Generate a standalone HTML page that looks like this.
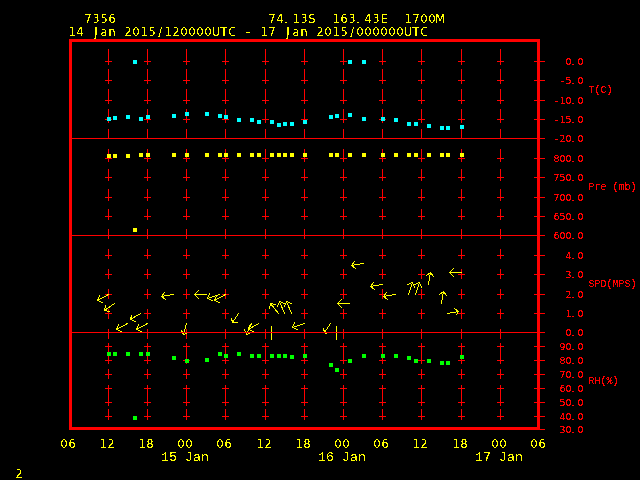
<!DOCTYPE html>
<html><head><meta charset="utf-8"><title>7356 meteogram</title><style>html,body{margin:0;padding:0;background:#000;width:640px;height:480px;overflow:hidden}svg{display:block}</style></head><body><svg width="640" height="480" viewBox="0 0 640 480"><defs><filter id="tA" color-interpolation-filters="sRGB"><feComponentTransfer><feFuncA type="discrete" tableValues="0 1"/></feComponentTransfer></filter><filter id="tB" color-interpolation-filters="sRGB"><feComponentTransfer><feFuncA type="discrete" tableValues="0 0 0 0 1 1 1 1 1 1"/></feComponentTransfer></filter></defs><rect width="640" height="480" fill="#000"/><g shape-rendering="crispEdges"><path fill="#ff0000" d="M108 49h1v10h-1zM108 69h1v10h-1zM108 89h1v10h-1zM108 109h1v10h-1zM108 129h1v10h-1zM108 149h1v10h-1zM108 169h1v10h-1zM108 189h1v10h-1zM108 209h1v10h-1zM108 229h1v10h-1zM108 249h1v10h-1zM108 269h1v10h-1zM108 289h1v10h-1zM108 309h1v10h-1zM108 329h1v10h-1zM108 349h1v10h-1zM108 369h1v10h-1zM108 389h1v10h-1zM108 409h1v10h-1zM105 61h7v1h-7zM108 58h1v7h-1zM105 80h7v1h-7zM108 77h1v7h-1zM105 100h7v1h-7zM108 97h1v7h-1zM105 119h7v1h-7zM108 116h1v7h-1zM105 158h7v1h-7zM108 155h1v7h-1zM105 177h7v1h-7zM108 174h1v7h-1zM105 197h7v1h-7zM108 194h1v7h-1zM105 216h7v1h-7zM108 213h1v7h-1zM105 235h7v1h-7zM108 232h1v7h-1zM105 255h7v1h-7zM108 252h1v7h-1zM105 274h7v1h-7zM108 271h1v7h-1zM105 294h7v1h-7zM108 291h1v7h-1zM105 313h7v1h-7zM108 310h1v7h-1zM105 332h7v1h-7zM108 329h1v7h-1zM105 346h7v1h-7zM108 343h1v7h-1zM105 360h7v1h-7zM108 357h1v7h-1zM105 374h7v1h-7zM108 371h1v7h-1zM105 388h7v1h-7zM108 385h1v7h-1zM105 402h7v1h-7zM108 399h1v7h-1zM105 416h7v1h-7zM108 413h1v7h-1zM147 49h1v10h-1zM147 69h1v10h-1zM147 89h1v10h-1zM147 109h1v10h-1zM147 129h1v10h-1zM147 149h1v10h-1zM147 169h1v10h-1zM147 189h1v10h-1zM147 209h1v10h-1zM147 229h1v10h-1zM147 249h1v10h-1zM147 269h1v10h-1zM147 289h1v10h-1zM147 309h1v10h-1zM147 329h1v10h-1zM147 349h1v10h-1zM147 369h1v10h-1zM147 389h1v10h-1zM147 409h1v10h-1zM144 61h7v1h-7zM147 58h1v7h-1zM144 80h7v1h-7zM147 77h1v7h-1zM144 100h7v1h-7zM147 97h1v7h-1zM144 119h7v1h-7zM147 116h1v7h-1zM144 158h7v1h-7zM147 155h1v7h-1zM144 177h7v1h-7zM147 174h1v7h-1zM144 197h7v1h-7zM147 194h1v7h-1zM144 216h7v1h-7zM147 213h1v7h-1zM144 235h7v1h-7zM147 232h1v7h-1zM144 255h7v1h-7zM147 252h1v7h-1zM144 274h7v1h-7zM147 271h1v7h-1zM144 294h7v1h-7zM147 291h1v7h-1zM144 313h7v1h-7zM147 310h1v7h-1zM144 332h7v1h-7zM147 329h1v7h-1zM144 346h7v1h-7zM147 343h1v7h-1zM144 360h7v1h-7zM147 357h1v7h-1zM144 374h7v1h-7zM147 371h1v7h-1zM144 388h7v1h-7zM147 385h1v7h-1zM144 402h7v1h-7zM147 399h1v7h-1zM144 416h7v1h-7zM147 413h1v7h-1zM186 49h1v10h-1zM186 69h1v10h-1zM186 89h1v10h-1zM186 109h1v10h-1zM186 129h1v10h-1zM186 149h1v10h-1zM186 169h1v10h-1zM186 189h1v10h-1zM186 209h1v10h-1zM186 229h1v10h-1zM186 249h1v10h-1zM186 269h1v10h-1zM186 289h1v10h-1zM186 309h1v10h-1zM186 329h1v10h-1zM186 349h1v10h-1zM186 369h1v10h-1zM186 389h1v10h-1zM186 409h1v10h-1zM183 61h7v1h-7zM186 58h1v7h-1zM183 80h7v1h-7zM186 77h1v7h-1zM183 100h7v1h-7zM186 97h1v7h-1zM183 119h7v1h-7zM186 116h1v7h-1zM183 158h7v1h-7zM186 155h1v7h-1zM183 177h7v1h-7zM186 174h1v7h-1zM183 197h7v1h-7zM186 194h1v7h-1zM183 216h7v1h-7zM186 213h1v7h-1zM183 235h7v1h-7zM186 232h1v7h-1zM183 255h7v1h-7zM186 252h1v7h-1zM183 274h7v1h-7zM186 271h1v7h-1zM183 294h7v1h-7zM186 291h1v7h-1zM183 313h7v1h-7zM186 310h1v7h-1zM183 332h7v1h-7zM186 329h1v7h-1zM183 346h7v1h-7zM186 343h1v7h-1zM183 360h7v1h-7zM186 357h1v7h-1zM183 374h7v1h-7zM186 371h1v7h-1zM183 388h7v1h-7zM186 385h1v7h-1zM183 402h7v1h-7zM186 399h1v7h-1zM183 416h7v1h-7zM186 413h1v7h-1zM225 49h1v10h-1zM225 69h1v10h-1zM225 89h1v10h-1zM225 109h1v10h-1zM225 129h1v10h-1zM225 149h1v10h-1zM225 169h1v10h-1zM225 189h1v10h-1zM225 209h1v10h-1zM225 229h1v10h-1zM225 249h1v10h-1zM225 269h1v10h-1zM225 289h1v10h-1zM225 309h1v10h-1zM225 329h1v10h-1zM225 349h1v10h-1zM225 369h1v10h-1zM225 389h1v10h-1zM225 409h1v10h-1zM222 61h7v1h-7zM225 58h1v7h-1zM222 80h7v1h-7zM225 77h1v7h-1zM222 100h7v1h-7zM225 97h1v7h-1zM222 119h7v1h-7zM225 116h1v7h-1zM222 158h7v1h-7zM225 155h1v7h-1zM222 177h7v1h-7zM225 174h1v7h-1zM222 197h7v1h-7zM225 194h1v7h-1zM222 216h7v1h-7zM225 213h1v7h-1zM222 235h7v1h-7zM225 232h1v7h-1zM222 255h7v1h-7zM225 252h1v7h-1zM222 274h7v1h-7zM225 271h1v7h-1zM222 294h7v1h-7zM225 291h1v7h-1zM222 313h7v1h-7zM225 310h1v7h-1zM222 332h7v1h-7zM225 329h1v7h-1zM222 346h7v1h-7zM225 343h1v7h-1zM222 360h7v1h-7zM225 357h1v7h-1zM222 374h7v1h-7zM225 371h1v7h-1zM222 388h7v1h-7zM225 385h1v7h-1zM222 402h7v1h-7zM225 399h1v7h-1zM222 416h7v1h-7zM225 413h1v7h-1zM265 49h1v10h-1zM265 69h1v10h-1zM265 89h1v10h-1zM265 109h1v10h-1zM265 129h1v10h-1zM265 149h1v10h-1zM265 169h1v10h-1zM265 189h1v10h-1zM265 209h1v10h-1zM265 229h1v10h-1zM265 249h1v10h-1zM265 269h1v10h-1zM265 289h1v10h-1zM265 309h1v10h-1zM265 329h1v10h-1zM265 349h1v10h-1zM265 369h1v10h-1zM265 389h1v10h-1zM265 409h1v10h-1zM262 61h7v1h-7zM265 58h1v7h-1zM262 80h7v1h-7zM265 77h1v7h-1zM262 100h7v1h-7zM265 97h1v7h-1zM262 119h7v1h-7zM265 116h1v7h-1zM262 158h7v1h-7zM265 155h1v7h-1zM262 177h7v1h-7zM265 174h1v7h-1zM262 197h7v1h-7zM265 194h1v7h-1zM262 216h7v1h-7zM265 213h1v7h-1zM262 235h7v1h-7zM265 232h1v7h-1zM262 255h7v1h-7zM265 252h1v7h-1zM262 274h7v1h-7zM265 271h1v7h-1zM262 294h7v1h-7zM265 291h1v7h-1zM262 313h7v1h-7zM265 310h1v7h-1zM262 332h7v1h-7zM265 329h1v7h-1zM262 346h7v1h-7zM265 343h1v7h-1zM262 360h7v1h-7zM265 357h1v7h-1zM262 374h7v1h-7zM265 371h1v7h-1zM262 388h7v1h-7zM265 385h1v7h-1zM262 402h7v1h-7zM265 399h1v7h-1zM262 416h7v1h-7zM265 413h1v7h-1zM304 49h1v10h-1zM304 69h1v10h-1zM304 89h1v10h-1zM304 109h1v10h-1zM304 129h1v10h-1zM304 149h1v10h-1zM304 169h1v10h-1zM304 189h1v10h-1zM304 209h1v10h-1zM304 229h1v10h-1zM304 249h1v10h-1zM304 269h1v10h-1zM304 289h1v10h-1zM304 309h1v10h-1zM304 329h1v10h-1zM304 349h1v10h-1zM304 369h1v10h-1zM304 389h1v10h-1zM304 409h1v10h-1zM301 61h7v1h-7zM304 58h1v7h-1zM301 80h7v1h-7zM304 77h1v7h-1zM301 100h7v1h-7zM304 97h1v7h-1zM301 119h7v1h-7zM304 116h1v7h-1zM301 158h7v1h-7zM304 155h1v7h-1zM301 177h7v1h-7zM304 174h1v7h-1zM301 197h7v1h-7zM304 194h1v7h-1zM301 216h7v1h-7zM304 213h1v7h-1zM301 235h7v1h-7zM304 232h1v7h-1zM301 255h7v1h-7zM304 252h1v7h-1zM301 274h7v1h-7zM304 271h1v7h-1zM301 294h7v1h-7zM304 291h1v7h-1zM301 313h7v1h-7zM304 310h1v7h-1zM301 332h7v1h-7zM304 329h1v7h-1zM301 346h7v1h-7zM304 343h1v7h-1zM301 360h7v1h-7zM304 357h1v7h-1zM301 374h7v1h-7zM304 371h1v7h-1zM301 388h7v1h-7zM304 385h1v7h-1zM301 402h7v1h-7zM304 399h1v7h-1zM301 416h7v1h-7zM304 413h1v7h-1zM343 49h1v10h-1zM343 69h1v10h-1zM343 89h1v10h-1zM343 109h1v10h-1zM343 129h1v10h-1zM343 149h1v10h-1zM343 169h1v10h-1zM343 189h1v10h-1zM343 209h1v10h-1zM343 229h1v10h-1zM343 249h1v10h-1zM343 269h1v10h-1zM343 289h1v10h-1zM343 309h1v10h-1zM343 329h1v10h-1zM343 349h1v10h-1zM343 369h1v10h-1zM343 389h1v10h-1zM343 409h1v10h-1zM340 61h7v1h-7zM343 58h1v7h-1zM340 80h7v1h-7zM343 77h1v7h-1zM340 100h7v1h-7zM343 97h1v7h-1zM340 119h7v1h-7zM343 116h1v7h-1zM340 158h7v1h-7zM343 155h1v7h-1zM340 177h7v1h-7zM343 174h1v7h-1zM340 197h7v1h-7zM343 194h1v7h-1zM340 216h7v1h-7zM343 213h1v7h-1zM340 235h7v1h-7zM343 232h1v7h-1zM340 255h7v1h-7zM343 252h1v7h-1zM340 274h7v1h-7zM343 271h1v7h-1zM340 294h7v1h-7zM343 291h1v7h-1zM340 313h7v1h-7zM343 310h1v7h-1zM340 332h7v1h-7zM343 329h1v7h-1zM340 346h7v1h-7zM343 343h1v7h-1zM340 360h7v1h-7zM343 357h1v7h-1zM340 374h7v1h-7zM343 371h1v7h-1zM340 388h7v1h-7zM343 385h1v7h-1zM340 402h7v1h-7zM343 399h1v7h-1zM340 416h7v1h-7zM343 413h1v7h-1zM382 49h1v10h-1zM382 69h1v10h-1zM382 89h1v10h-1zM382 109h1v10h-1zM382 129h1v10h-1zM382 149h1v10h-1zM382 169h1v10h-1zM382 189h1v10h-1zM382 209h1v10h-1zM382 229h1v10h-1zM382 249h1v10h-1zM382 269h1v10h-1zM382 289h1v10h-1zM382 309h1v10h-1zM382 329h1v10h-1zM382 349h1v10h-1zM382 369h1v10h-1zM382 389h1v10h-1zM382 409h1v10h-1zM379 61h7v1h-7zM382 58h1v7h-1zM379 80h7v1h-7zM382 77h1v7h-1zM379 100h7v1h-7zM382 97h1v7h-1zM379 119h7v1h-7zM382 116h1v7h-1zM379 158h7v1h-7zM382 155h1v7h-1zM379 177h7v1h-7zM382 174h1v7h-1zM379 197h7v1h-7zM382 194h1v7h-1zM379 216h7v1h-7zM382 213h1v7h-1zM379 235h7v1h-7zM382 232h1v7h-1zM379 255h7v1h-7zM382 252h1v7h-1zM379 274h7v1h-7zM382 271h1v7h-1zM379 294h7v1h-7zM382 291h1v7h-1zM379 313h7v1h-7zM382 310h1v7h-1zM379 332h7v1h-7zM382 329h1v7h-1zM379 346h7v1h-7zM382 343h1v7h-1zM379 360h7v1h-7zM382 357h1v7h-1zM379 374h7v1h-7zM382 371h1v7h-1zM379 388h7v1h-7zM382 385h1v7h-1zM379 402h7v1h-7zM382 399h1v7h-1zM379 416h7v1h-7zM382 413h1v7h-1zM421 49h1v10h-1zM421 69h1v10h-1zM421 89h1v10h-1zM421 109h1v10h-1zM421 129h1v10h-1zM421 149h1v10h-1zM421 169h1v10h-1zM421 189h1v10h-1zM421 209h1v10h-1zM421 229h1v10h-1zM421 249h1v10h-1zM421 269h1v10h-1zM421 289h1v10h-1zM421 309h1v10h-1zM421 329h1v10h-1zM421 349h1v10h-1zM421 369h1v10h-1zM421 389h1v10h-1zM421 409h1v10h-1zM418 61h7v1h-7zM421 58h1v7h-1zM418 80h7v1h-7zM421 77h1v7h-1zM418 100h7v1h-7zM421 97h1v7h-1zM418 119h7v1h-7zM421 116h1v7h-1zM418 158h7v1h-7zM421 155h1v7h-1zM418 177h7v1h-7zM421 174h1v7h-1zM418 197h7v1h-7zM421 194h1v7h-1zM418 216h7v1h-7zM421 213h1v7h-1zM418 235h7v1h-7zM421 232h1v7h-1zM418 255h7v1h-7zM421 252h1v7h-1zM418 274h7v1h-7zM421 271h1v7h-1zM418 294h7v1h-7zM421 291h1v7h-1zM418 313h7v1h-7zM421 310h1v7h-1zM418 332h7v1h-7zM421 329h1v7h-1zM418 346h7v1h-7zM421 343h1v7h-1zM418 360h7v1h-7zM421 357h1v7h-1zM418 374h7v1h-7zM421 371h1v7h-1zM418 388h7v1h-7zM421 385h1v7h-1zM418 402h7v1h-7zM421 399h1v7h-1zM418 416h7v1h-7zM421 413h1v7h-1zM461 49h1v10h-1zM461 69h1v10h-1zM461 89h1v10h-1zM461 109h1v10h-1zM461 129h1v10h-1zM461 149h1v10h-1zM461 169h1v10h-1zM461 189h1v10h-1zM461 209h1v10h-1zM461 229h1v10h-1zM461 249h1v10h-1zM461 269h1v10h-1zM461 289h1v10h-1zM461 309h1v10h-1zM461 329h1v10h-1zM461 349h1v10h-1zM461 369h1v10h-1zM461 389h1v10h-1zM461 409h1v10h-1zM458 61h7v1h-7zM461 58h1v7h-1zM458 80h7v1h-7zM461 77h1v7h-1zM458 100h7v1h-7zM461 97h1v7h-1zM458 119h7v1h-7zM461 116h1v7h-1zM458 158h7v1h-7zM461 155h1v7h-1zM458 177h7v1h-7zM461 174h1v7h-1zM458 197h7v1h-7zM461 194h1v7h-1zM458 216h7v1h-7zM461 213h1v7h-1zM458 235h7v1h-7zM461 232h1v7h-1zM458 255h7v1h-7zM461 252h1v7h-1zM458 274h7v1h-7zM461 271h1v7h-1zM458 294h7v1h-7zM461 291h1v7h-1zM458 313h7v1h-7zM461 310h1v7h-1zM458 332h7v1h-7zM461 329h1v7h-1zM458 346h7v1h-7zM461 343h1v7h-1zM458 360h7v1h-7zM461 357h1v7h-1zM458 374h7v1h-7zM461 371h1v7h-1zM458 388h7v1h-7zM461 385h1v7h-1zM458 402h7v1h-7zM461 399h1v7h-1zM458 416h7v1h-7zM461 413h1v7h-1zM500 49h1v10h-1zM500 69h1v10h-1zM500 89h1v10h-1zM500 109h1v10h-1zM500 129h1v10h-1zM500 149h1v10h-1zM500 169h1v10h-1zM500 189h1v10h-1zM500 209h1v10h-1zM500 229h1v10h-1zM500 249h1v10h-1zM500 269h1v10h-1zM500 289h1v10h-1zM500 309h1v10h-1zM500 329h1v10h-1zM500 349h1v10h-1zM500 369h1v10h-1zM500 389h1v10h-1zM500 409h1v10h-1zM497 61h7v1h-7zM500 58h1v7h-1zM497 80h7v1h-7zM500 77h1v7h-1zM497 100h7v1h-7zM500 97h1v7h-1zM497 119h7v1h-7zM500 116h1v7h-1zM497 158h7v1h-7zM500 155h1v7h-1zM497 177h7v1h-7zM500 174h1v7h-1zM497 197h7v1h-7zM500 194h1v7h-1zM497 216h7v1h-7zM500 213h1v7h-1zM497 235h7v1h-7zM500 232h1v7h-1zM497 255h7v1h-7zM500 252h1v7h-1zM497 274h7v1h-7zM500 271h1v7h-1zM497 294h7v1h-7zM500 291h1v7h-1zM497 313h7v1h-7zM500 310h1v7h-1zM497 332h7v1h-7zM500 329h1v7h-1zM497 346h7v1h-7zM500 343h1v7h-1zM497 360h7v1h-7zM500 357h1v7h-1zM497 374h7v1h-7zM500 371h1v7h-1zM497 388h7v1h-7zM500 385h1v7h-1zM497 402h7v1h-7zM500 399h1v7h-1zM497 416h7v1h-7zM500 413h1v7h-1z"/><path fill="#00ffff" d="M107 117h4v4h-4zM113 116h4v4h-4zM126 115h4v4h-4zM139 117h4v4h-4zM146 115h4v4h-4zM172 114h4v4h-4zM185 112h4v4h-4zM205 112h4v4h-4zM218 114h4v4h-4zM224 115h4v4h-4zM237 118h4v4h-4zM250 118h4v4h-4zM257 120h4v4h-4zM270 120h4v4h-4zM277 123h4v4h-4zM283 122h4v4h-4zM290 122h4v4h-4zM303 120h4v4h-4zM329 115h4v4h-4zM335 114h4v4h-4zM348 113h4v4h-4zM362 117h4v4h-4zM381 117h4v4h-4zM394 118h4v4h-4zM407 122h4v4h-4zM414 122h4v4h-4zM427 124h4v4h-4zM440 126h4v4h-4zM446 126h4v4h-4zM460 125h4v4h-4zM133 60h4v4h-4zM348 60h4v4h-4zM362 60h4v4h-4z"/><path fill="#ffff00" d="M107 154h4v4h-4zM113 154h4v4h-4zM126 154h4v4h-4zM139 153h4v4h-4zM146 153h4v4h-4zM172 153h4v4h-4zM185 153h4v4h-4zM205 153h4v4h-4zM218 153h4v4h-4zM224 153h4v4h-4zM237 153h4v4h-4zM250 153h4v4h-4zM257 153h4v4h-4zM270 153h4v4h-4zM277 153h4v4h-4zM283 153h4v4h-4zM290 153h4v4h-4zM303 153h4v4h-4zM329 153h4v4h-4zM335 153h4v4h-4zM348 153h4v4h-4zM362 153h4v4h-4zM381 153h4v4h-4zM394 153h4v4h-4zM407 153h4v4h-4zM414 153h4v4h-4zM427 153h4v4h-4zM440 153h4v4h-4zM446 153h4v4h-4zM460 153h4v4h-4zM133 228h4v4h-4z"/><path fill="#00ff00" d="M107 352h4v4h-4zM113 352h4v4h-4zM126 352h4v4h-4zM139 352h4v4h-4zM146 352h4v4h-4zM172 356h4v4h-4zM185 359h4v4h-4zM205 358h4v4h-4zM218 352h4v4h-4zM224 354h4v4h-4zM237 352h4v4h-4zM250 354h4v4h-4zM257 354h4v4h-4zM270 354h4v4h-4zM277 354h4v4h-4zM283 354h4v4h-4zM290 355h4v4h-4zM303 354h4v4h-4zM329 363h4v4h-4zM335 368h4v4h-4zM348 359h4v4h-4zM362 354h4v4h-4zM381 354h4v4h-4zM394 354h4v4h-4zM407 356h4v4h-4zM414 359h4v4h-4zM427 359h4v4h-4zM440 361h4v4h-4zM446 361h4v4h-4zM460 355h4v4h-4zM133 416h4v4h-4z"/><path fill="none" stroke="#ffff00" stroke-width="1" stroke-linecap="square" d="M108.5 294.5L97.5 300.5M99.5 295.5L97.5 300.5L102.5 302.5M114.5 303.5L104.5 310.5M105.5 305.5L104.5 310.5L109.5 311.5M140.5 313.5L130.5 319.5M131.5 315.5L130.5 319.5L135.5 321.5M127.5 323.5L116.5 329.5M118.5 324.5L116.5 329.5L121.5 331.5M147.5 323.5L136.5 329.5M138.5 324.5L136.5 329.5L141.5 331.5M173.5 294.5L161.5 296.5M164.5 292.5L161.5 296.5L165.5 299.5M186.5 323.5L183.5 334.5M181.5 330.5L183.5 334.5L186.5 333.5M206.5 294.5L194.5 294.5M198.5 290.5L194.5 294.5L198.5 298.5M219.5 294.5L207.5 298.5M209.5 293.5L207.5 298.5L212.5 300.5M225.5 294.5L214.5 300.5M216.5 295.5L214.5 300.5L219.5 302.5M238.5 313.5L232.5 322.5M231.5 318.5L232.5 322.5L237.5 322.5M251.5 323.5L246.5 334.5M244.5 329.5L246.5 334.5L249.5 333.5M258.5 323.5L248.5 329.5M249.5 325.5L248.5 329.5L253.5 331.5M278.5 313.5L270.5 303.5M269.5 308.5L270.5 303.5L275.5 304.5M284.5 313.5L279.5 301.5M277.5 306.5L279.5 301.5L284.5 303.5M291.5 313.5L286.5 301.5M284.5 306.5L286.5 301.5L291.5 303.5M304.5 323.5L292.5 327.5M294.5 322.5L292.5 327.5L297.5 329.5M330.5 323.5L324.5 332.5M323.5 328.5L324.5 332.5L326.5 333.5M349.5 303.5L337.5 303.5M341.5 299.5L337.5 303.5L341.5 307.5M363.5 263.5L351.5 265.5M354.5 261.5L351.5 265.5L355.5 268.5M382.5 284.5L370.5 286.5M373.5 282.5L370.5 286.5L374.5 289.5M395.5 294.5L383.5 296.5M386.5 292.5L383.5 296.5L387.5 299.5M408.5 294.5L412.5 282.5M407.5 284.5L412.5 282.5L414.5 287.5M415.5 294.5L419.5 282.5M414.5 284.5L419.5 282.5L421.5 287.5M428.5 284.5L430.5 272.5M426.5 275.5L430.5 272.5L433.5 276.5M461.5 272.5L449.5 272.5M453.5 268.5L449.5 272.5L453.5 276.5M441.5 303.5L443.5 291.5M439.5 294.5L443.5 291.5L446.5 295.5M447.5 313.5L458.5 311.5M454.5 308.5L458.5 311.5L456.5 314.5M271.5 326L271.5 339M336.5 326L336.5 339"/><rect x="72" y="138" width="465" height="1" fill="#ff0000"/><rect x="72" y="235" width="465" height="1" fill="#ff0000"/><rect x="72" y="332" width="465" height="1" fill="#ff0000"/><path fill="#ff0000" d="M534 61h11v1h-11zM534 80h11v1h-11zM534 100h11v1h-11zM534 119h11v1h-11zM534 138h11v1h-11zM534 158h11v1h-11zM534 177h11v1h-11zM534 197h11v1h-11zM534 216h11v1h-11zM534 235h11v1h-11zM534 255h11v1h-11zM534 274h11v1h-11zM534 294h11v1h-11zM534 313h11v1h-11zM534 332h11v1h-11zM534 346h11v1h-11zM534 360h11v1h-11zM534 374h11v1h-11zM534 388h11v1h-11zM534 402h11v1h-11zM534 416h11v1h-11zM534 429h11v1h-11z"/><rect x="69" y="39" width="471" height="3" fill="#ff0000"/><rect x="69" y="427" width="471" height="3" fill="#ff0000"/><rect x="69" y="39" width="3" height="391" fill="#ff0000"/><rect x="537" y="39" width="3" height="391" fill="#ff0000"/></g><g font-family="'Liberation Mono', monospace" style="white-space:pre"><text x="88 96 104 112" y="23" fill="#ffff00" text-anchor="middle" font-family="'DejaVu Sans Condensed', 'Liberation Sans'" font-size="12.3" filter="url(#tA)">7356</text><text x="272 280 286 296 304 312" y="23" fill="#ffff00" text-anchor="middle" font-family="'DejaVu Sans Condensed', 'Liberation Sans'" font-size="12.3" filter="url(#tA)">74.13S</text><text x="336 344 352 358 368 376 384" y="23" fill="#ffff00" text-anchor="middle" font-family="'DejaVu Sans Condensed', 'Liberation Sans'" font-size="12.3" filter="url(#tA)">163.43E</text><text x="408 416 424 432 440" y="23" fill="#ffff00" text-anchor="middle" font-family="'DejaVu Sans Condensed', 'Liberation Sans'" font-size="12.3" filter="url(#tA)">1700M</text><text x="72 80 88 96 104 112 120 128 136 144 152 160 168 176 184 192 200 208 216 224 232 240 248 256 264 272 280 288 296 304 312 320 328 336 344 352 360 368 376 384 392 400 408 416 424" y="36" fill="#ffff00" text-anchor="middle" font-family="'DejaVu Sans Condensed', 'Liberation Sans'" font-size="12.3" filter="url(#tA)">14 Jan 2015/120000UTC - 17 Jan 2015/000000UTC</text><text x="64 72" y="448" fill="#ffff00" text-anchor="middle" font-family="'DejaVu Sans Condensed', 'Liberation Sans'" font-size="12.3" filter="url(#tA)">06</text><text x="103 111" y="448" fill="#ffff00" text-anchor="middle" font-family="'DejaVu Sans Condensed', 'Liberation Sans'" font-size="12.3" filter="url(#tA)">12</text><text x="142 150" y="448" fill="#ffff00" text-anchor="middle" font-family="'DejaVu Sans Condensed', 'Liberation Sans'" font-size="12.3" filter="url(#tA)">18</text><text x="181 189" y="448" fill="#ffff00" text-anchor="middle" font-family="'DejaVu Sans Condensed', 'Liberation Sans'" font-size="12.3" filter="url(#tA)">00</text><text x="220 228" y="448" fill="#ffff00" text-anchor="middle" font-family="'DejaVu Sans Condensed', 'Liberation Sans'" font-size="12.3" filter="url(#tA)">06</text><text x="260 268" y="448" fill="#ffff00" text-anchor="middle" font-family="'DejaVu Sans Condensed', 'Liberation Sans'" font-size="12.3" filter="url(#tA)">12</text><text x="299 307" y="448" fill="#ffff00" text-anchor="middle" font-family="'DejaVu Sans Condensed', 'Liberation Sans'" font-size="12.3" filter="url(#tA)">18</text><text x="338 346" y="448" fill="#ffff00" text-anchor="middle" font-family="'DejaVu Sans Condensed', 'Liberation Sans'" font-size="12.3" filter="url(#tA)">00</text><text x="377 385" y="448" fill="#ffff00" text-anchor="middle" font-family="'DejaVu Sans Condensed', 'Liberation Sans'" font-size="12.3" filter="url(#tA)">06</text><text x="416 424" y="448" fill="#ffff00" text-anchor="middle" font-family="'DejaVu Sans Condensed', 'Liberation Sans'" font-size="12.3" filter="url(#tA)">12</text><text x="456 464" y="448" fill="#ffff00" text-anchor="middle" font-family="'DejaVu Sans Condensed', 'Liberation Sans'" font-size="12.3" filter="url(#tA)">18</text><text x="495 503" y="448" fill="#ffff00" text-anchor="middle" font-family="'DejaVu Sans Condensed', 'Liberation Sans'" font-size="12.3" filter="url(#tA)">00</text><text x="534 542" y="448" fill="#ffff00" text-anchor="middle" font-family="'DejaVu Sans Condensed', 'Liberation Sans'" font-size="12.3" filter="url(#tA)">06</text><text x="165 173 181 189 197 205" y="461" fill="#ffff00" text-anchor="middle" font-family="Liberation Mono" font-size="13.33" filter="url(#tA)">15 Jan</text><text x="322 330 338 346 354 362" y="461" fill="#ffff00" text-anchor="middle" font-family="Liberation Mono" font-size="13.33" filter="url(#tA)">16 Jan</text><text x="479 487 495 503 511 519" y="461" fill="#ffff00" text-anchor="middle" font-family="Liberation Mono" font-size="13.33" filter="url(#tA)">17 Jan</text><text x="19" y="478" fill="#ffff00" text-anchor="middle" font-family="'DejaVu Sans Condensed', 'Liberation Sans'" font-size="12.3" filter="url(#tA)">2</text><text x="568.5 573 580.5" y="65" fill="#ff0000" text-anchor="middle" font-family="DejaVu Sans" font-size="9.4" filter="url(#tB)">0.0</text><text x="562.5 568.5 573 580.5" y="84" fill="#ff0000" text-anchor="middle" font-family="DejaVu Sans" font-size="9.4" filter="url(#tB)">-5.0</text><text x="556.5 562.5 568.5 573 580.5" y="104" fill="#ff0000" text-anchor="middle" font-family="DejaVu Sans" font-size="9.4" filter="url(#tB)">-10.0</text><text x="556.5 562.5 568.5 573 580.5" y="123" fill="#ff0000" text-anchor="middle" font-family="DejaVu Sans" font-size="9.4" filter="url(#tB)">-15.0</text><text x="556.5 562.5 568.5 573 580.5" y="142" fill="#ff0000" text-anchor="middle" font-family="DejaVu Sans" font-size="9.4" filter="url(#tB)">-20.0</text><text x="556.5 562.5 568.5 573 580.5" y="162" fill="#ff0000" text-anchor="middle" font-family="DejaVu Sans" font-size="9.4" filter="url(#tB)">800.0</text><text x="556.5 562.5 568.5 573 580.5" y="181" fill="#ff0000" text-anchor="middle" font-family="DejaVu Sans" font-size="9.4" filter="url(#tB)">750.0</text><text x="556.5 562.5 568.5 573 580.5" y="201" fill="#ff0000" text-anchor="middle" font-family="DejaVu Sans" font-size="9.4" filter="url(#tB)">700.0</text><text x="556.5 562.5 568.5 573 580.5" y="220" fill="#ff0000" text-anchor="middle" font-family="DejaVu Sans" font-size="9.4" filter="url(#tB)">650.0</text><text x="556.5 562.5 568.5 573 580.5" y="239" fill="#ff0000" text-anchor="middle" font-family="DejaVu Sans" font-size="9.4" filter="url(#tB)">600.0</text><text x="568.5 573 580.5" y="259" fill="#ff0000" text-anchor="middle" font-family="DejaVu Sans" font-size="9.4" filter="url(#tB)">4.0</text><text x="568.5 573 580.5" y="278" fill="#ff0000" text-anchor="middle" font-family="DejaVu Sans" font-size="9.4" filter="url(#tB)">3.0</text><text x="568.5 573 580.5" y="298" fill="#ff0000" text-anchor="middle" font-family="DejaVu Sans" font-size="9.4" filter="url(#tB)">2.0</text><text x="568.5 573 580.5" y="317" fill="#ff0000" text-anchor="middle" font-family="DejaVu Sans" font-size="9.4" filter="url(#tB)">1.0</text><text x="568.5 573 580.5" y="336" fill="#ff0000" text-anchor="middle" font-family="DejaVu Sans" font-size="9.4" filter="url(#tB)">0.0</text><text x="562.5 568.5 573 580.5" y="350" fill="#ff0000" text-anchor="middle" font-family="DejaVu Sans" font-size="9.4" filter="url(#tB)">90.0</text><text x="562.5 568.5 573 580.5" y="364" fill="#ff0000" text-anchor="middle" font-family="DejaVu Sans" font-size="9.4" filter="url(#tB)">80.0</text><text x="562.5 568.5 573 580.5" y="378" fill="#ff0000" text-anchor="middle" font-family="DejaVu Sans" font-size="9.4" filter="url(#tB)">70.0</text><text x="562.5 568.5 573 580.5" y="392" fill="#ff0000" text-anchor="middle" font-family="DejaVu Sans" font-size="9.4" filter="url(#tB)">60.0</text><text x="562.5 568.5 573 580.5" y="406" fill="#ff0000" text-anchor="middle" font-family="DejaVu Sans" font-size="9.4" filter="url(#tB)">50.0</text><text x="562.5 568.5 573 580.5" y="420" fill="#ff0000" text-anchor="middle" font-family="DejaVu Sans" font-size="9.4" filter="url(#tB)">40.0</text><text x="562.5 568.5 573 580.5" y="433" fill="#ff0000" text-anchor="middle" font-family="DejaVu Sans" font-size="9.4" filter="url(#tB)">30.0</text><text x="591.5 597.5 603.5 609.5" y="93" fill="#ff0000" text-anchor="middle" font-family="Liberation Mono" font-size="10.0" filter="url(#tB)">T(C)</text><text x="591.5 597.5 603.5 609.5 615.5 621.5 627.5 633.5" y="190" fill="#ff0000" text-anchor="middle" font-family="Liberation Mono" font-size="10.0" filter="url(#tB)">Pre (mb)</text><text x="591.5 597.5 603.5 609.5 615.5 621.5 627.5 633.5" y="287" fill="#ff0000" text-anchor="middle" font-family="Liberation Mono" font-size="10.0" filter="url(#tB)">SPD(MPS)</text><text x="591.5 597.5 603.5 609.5 615.5" y="384" fill="#ff0000" text-anchor="middle" font-family="Liberation Mono" font-size="10.0" filter="url(#tB)">RH(%)</text></g></svg></body></html>
